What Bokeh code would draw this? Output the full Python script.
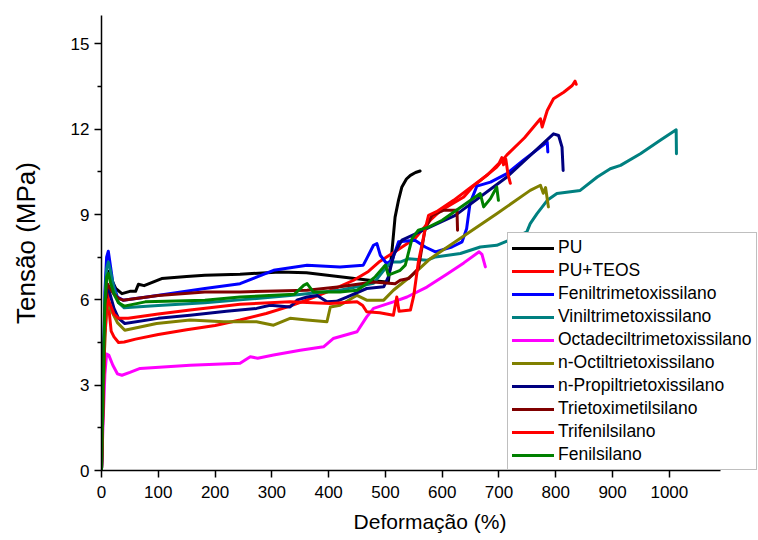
from bokeh.plotting import figure
from bokeh.models import Range1d, FixedTicker, Legend, LegendItem
from bokeh.embed import file_html
from bokeh.resources import INLINE

# ---------------- data ----------------
pu_x = [0, 3, 6, 9, 12, 18, 25, 36, 50, 60, 65, 75, 106, 150, 182, 244, 314, 361, 420, 479, 502, 505, 511, 517, 523, 529, 537, 544, 553, 561]
pu_y = [0, 2.5, 5.5, 6.9, 7.0, 6.7, 6.4, 6.22, 6.3, 6.3, 6.55, 6.5, 6.75, 6.82, 6.87, 6.9, 6.98, 6.95, 6.81, 6.67, 6.63, 6.63, 7.6, 8.91, 9.5, 9.97, 10.25, 10.38, 10.48, 10.53]

teos_x = [0, 3, 6, 9, 11, 14, 17, 22, 30, 40, 60, 100, 150, 200, 244, 290, 332, 361, 400, 444, 470, 490, 520, 552, 579, 597, 638, 655, 696, 714, 745, 773, 776, 785, 796, 814, 829, 834, 836]
teos_y = [0, 2.8, 5.2, 6.1, 6.3, 5.5, 4.9, 4.7, 4.5, 4.52, 4.62, 4.78, 4.95, 5.1, 5.29, 5.52, 5.78, 5.99, 6.3, 6.69, 7.0, 7.35, 7.74, 8.16, 8.8, 9.14, 9.62, 10.0, 10.67, 11.1, 11.7, 12.37, 12.08, 12.66, 13.07, 13.3, 13.54, 13.69, 13.58]

fenil_tm_x = [0, 3, 6, 9, 12, 15, 20, 28, 38, 80, 182, 244, 303, 362, 420, 461, 467, 479, 485, 491, 502, 512, 523, 552, 570, 588, 617, 635, 643, 649, 661, 685, 714, 743, 773, 785, 786]
fenil_tm_y = [0, 3.4, 6.3, 7.5, 7.71, 7.3, 6.6, 6.1, 5.99, 6.1, 6.4, 6.57, 7.04, 7.22, 7.16, 7.22, 7.45, 7.92, 7.98, 7.57, 7.28, 7.4, 8.04, 8.1, 7.86, 7.69, 7.86, 8.04, 8.5, 9.4, 10.0, 10.14, 10.44, 10.91, 11.37, 11.55, 11.2]

vinil_x = [0, 3, 6, 9, 12, 16, 22, 30, 40, 100, 182, 244, 332, 420, 479, 502, 511, 526, 541, 573, 588, 632, 667, 696, 726, 749, 755, 767, 785, 802, 843, 873, 896, 914, 949, 984, 1012, 1012.5]
vinil_y = [0, 3.2, 6.0, 7.1, 7.33, 7.0, 6.4, 5.9, 5.72, 5.8, 5.9, 6.0, 6.15, 6.34, 6.58, 7.16, 7.33, 7.33, 7.45, 7.39, 7.51, 7.63, 7.86, 7.92, 8.16, 8.39, 8.68, 9.03, 9.5, 9.74, 9.85, 10.32, 10.61, 10.73, 11.14, 11.61, 11.98, 11.14]

octadecil_x = [0, 3, 6, 9, 13, 20, 28, 36, 50, 68, 156, 244, 262, 275, 303, 350, 391, 408, 450, 467, 479, 514, 538, 573, 608, 638, 665, 670, 676]
octadecil_y = [0, 1.8, 3.4, 4.1, 4.05, 3.7, 3.4, 3.35, 3.45, 3.59, 3.7, 3.77, 4.0, 3.95, 4.06, 4.23, 4.35, 4.64, 4.88, 5.4, 5.7, 5.93, 6.1, 6.45, 6.9, 7.3, 7.69, 7.6, 7.16]

octil_x = [0, 3, 6, 9, 12, 18, 28, 41, 97, 156, 215, 273, 303, 332, 362, 397, 403, 420, 450, 467, 497, 514, 549, 579, 638, 696, 755, 773, 778, 782, 787]
octil_y = [0, 2.6, 4.7, 5.6, 5.87, 5.6, 5.2, 4.93, 5.17, 5.29, 5.23, 5.23, 5.11, 5.35, 5.29, 5.23, 5.75, 5.81, 6.16, 5.99, 5.99, 6.34, 6.9, 7.45, 8.25, 9.03, 9.85, 10.03, 9.75, 9.95, 9.27]

propil_x = [0, 3, 6, 9, 11, 15, 22, 30, 41, 100, 156, 220, 273, 297, 332, 345, 362, 380, 397, 414, 432, 467, 497, 505, 515, 529, 597, 623, 714, 796, 805, 811, 813]
propil_y = [0, 2.9, 5.5, 6.4, 6.5, 6.2, 5.7, 5.35, 5.17, 5.35, 5.46, 5.6, 5.7, 5.81, 5.75, 6.0, 6.1, 6.15, 5.93, 5.95, 6.1, 6.4, 6.46, 6.8, 7.6, 8.1, 8.73, 8.97, 10.32, 11.84, 11.78, 11.37, 10.55]

trietox_x = [0, 3, 6, 9, 11, 15, 22, 30, 38, 100, 182, 244, 362, 420, 479, 517, 526, 541, 558, 564, 570, 582, 602, 626, 627]
trietox_y = [0, 2.9, 5.4, 6.4, 6.55, 6.4, 6.2, 6.05, 5.99, 6.15, 6.28, 6.28, 6.34, 6.46, 6.63, 6.57, 6.69, 6.75, 7.1, 7.8, 8.5, 8.97, 9.15, 9.15, 8.45]

trifenil_x = [0, 3, 6, 9, 12, 16, 22, 30, 47, 100, 156, 244, 332, 403, 450, 460, 467, 490, 514, 520, 524, 544, 550, 558, 565, 570, 576, 590, 620, 650, 680, 700, 705, 708, 712, 716, 720]
trifenil_y = [0, 2.6, 4.8, 5.7, 6.0, 5.8, 5.5, 5.35, 5.35, 5.5, 5.64, 5.85, 5.93, 5.87, 5.93, 5.8, 5.58, 5.55, 5.46, 6.1, 5.6, 5.64, 6.16, 7.33, 8.0, 8.5, 8.97, 9.1, 9.5, 9.95, 10.4, 10.8, 11.0, 10.75, 10.95, 10.4, 10.1]

fenilsil_x = [0, 3, 6, 9, 12, 16, 22, 30, 40, 77, 182, 244, 340, 356, 362, 373, 420, 450, 467, 482, 497, 500, 505, 526, 535, 547, 558, 576, 600, 667, 673, 685, 696, 699]
fenilsil_y = [0, 3.1, 5.8, 6.8, 6.93, 6.6, 6.2, 5.9, 5.78, 5.93, 5.99, 6.1, 6.2, 6.51, 6.57, 6.28, 6.28, 6.34, 6.57, 6.81, 7.16, 7.22, 6.87, 7.04, 7.22, 8.16, 8.45, 8.56, 8.8, 9.74, 9.27, 9.56, 9.97, 9.5]

series_names = ["PU", "PU+TEOS", "Feniltrimetoxissilano", "Viniltrimetoxissilano",
                "Octadeciltrimetoxissilano", "n-Octiltrietoxissilano", "n-Propiltrietoxissilano",
                "Trietoximetilsilano", "Trifenilsilano", "Fenilsilano"]
series_colors = ["#000000", "#FF0000", "#0000FF", "#008080", "#FF00FF", "#808000",
                 "#000080", "#800000", "#FF0000", "#008000"]
series_x = [pu_x, teos_x, fenil_tm_x, vinil_x, octadecil_x, octil_x, propil_x, trietox_x, trifenil_x, fenilsil_x]
series_y = [pu_y, teos_y, fenil_tm_y, vinil_y, octadecil_y, octil_y, propil_y, trietox_y, trifenil_y, fenilsil_y]

x_ticks = [0, 100, 200, 300, 400, 500, 600, 700, 800, 900, 1000]
y_ticks = [0, 3, 6, 9, 12, 15]
y_minor = [1.5, 4.5, 7.5, 10.5, 13.5]

FONT = "Liberation Sans"

p = figure(width=758, height=540, output_backend="svg", toolbar_location=None,
           x_range=Range1d(0, 1157), y_range=Range1d(0, 16),
           min_border_left=101, min_border_right=0, min_border_top=15, min_border_bottom=70)
p.grid.visible = False
p.outline_line_color = None
p.background_fill_color = "white"

renderers = []
for name, col, xs, ys in zip(series_names, series_colors, series_x, series_y):
    r = p.line(xs, ys, line_color=col, line_width=3, line_join="round", line_cap="round")
    renderers.append((name, r))

# axes
xa = p.xaxis[0]
xa.ticker = FixedTicker(ticks=x_ticks)
xa.bounds = (0, 1090)
xa.axis_label = "Deformação (%)"
ya = p.yaxis[0]
ya.ticker = FixedTicker(ticks=y_ticks, minor_ticks=y_minor)
ya.axis_label = "Tensão (MPa)"

for ax in (xa, ya):
    ax.axis_line_color = "black"
    ax.axis_line_width = 1.5
    ax.major_tick_line_color = "black"
    ax.major_tick_line_width = 1.5
    ax.major_tick_out = 7
    ax.major_tick_in = 0
    ax.minor_tick_line_color = "black"
    ax.minor_tick_line_width = 1.5
    ax.minor_tick_out = 4
    ax.minor_tick_in = 0
    ax.major_label_text_font = FONT
    ax.major_label_text_font_size = "17px"
    ax.major_label_text_color = "black"
    ax.axis_label_text_font = FONT
    ax.axis_label_text_font_style = "normal"
    ax.axis_label_text_color = "black"

xa.axis_label_text_font_size = "21px"
ya.axis_label_text_font_size = "26px"
xa.major_label_standoff = 8
ya.major_label_standoff = 5
xa.axis_label_standoff = 9
ya.axis_label_standoff = 27

legend = Legend(items=[LegendItem(label=n, renderers=[r]) for n, r in renderers],
                location=(406, 0))
legend.label_text_font = FONT
legend.label_text_font_size = "17.5px"
legend.label_text_color = "black"
legend.glyph_width = 42
legend.glyph_height = 20
legend.label_height = 20
legend.label_standoff = 4
legend.spacing = 2
legend.padding = 4
legend.margin = 0
legend.border_line_color = "#808080"
legend.border_line_width = 1.5
legend.background_fill_color = "white"
legend.background_fill_alpha = 1.0
p.add_layout(legend)

open("out.html", "w").write(file_html(p, INLINE))
